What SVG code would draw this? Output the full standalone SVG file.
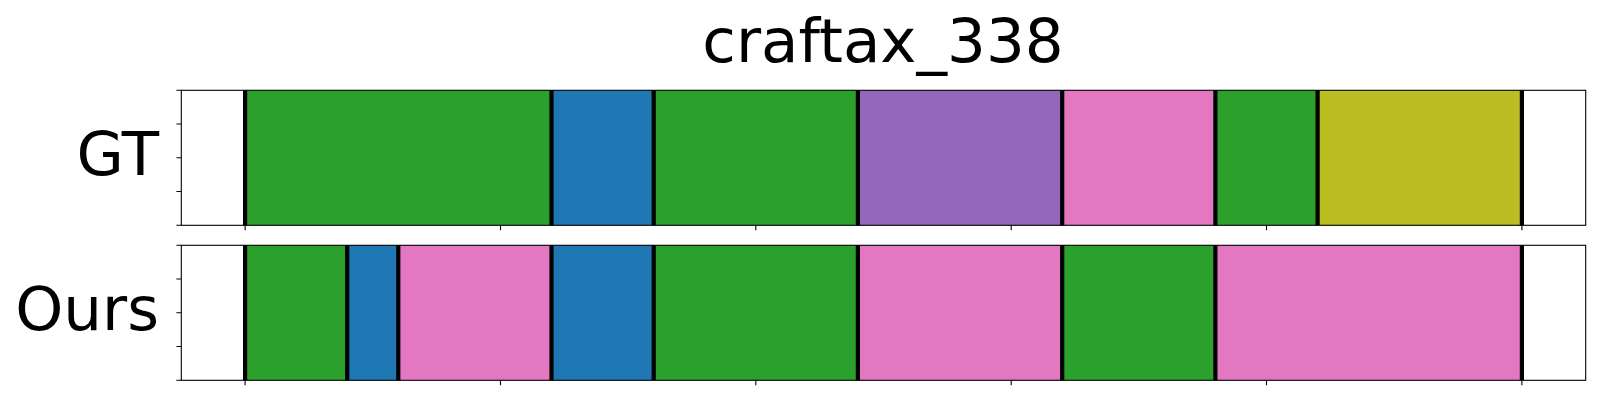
<svg xmlns="http://www.w3.org/2000/svg" width="1600" height="400" viewBox="0 0 1600 400">
<style>
.t{font-family:"DejaVu Sans","Liberation Sans",sans-serif;fill:#000;font-size:61.1px}
.g{fill:#2ca02c}.b{fill:#1f77b4}.p{fill:#9467bd}.k{fill:#e377c2}.o{fill:#bcbd22}
.sep{stroke:#000;stroke-width:4.2;fill:none}
.spine{fill:none;stroke:#000;stroke-width:1.1}
.tick{stroke:#000;stroke-width:1.1;fill:none}
</style>
<rect width="1600" height="400" fill="#fff"/>
<text class="t" x="883" y="62" text-anchor="middle">craftax_338</text>
<g id="gt">
<text class="t" x="159" y="175" text-anchor="end">GT</text>
<rect class="g" x="245.1" y="90.3" width="306.4" height="135"/>
<rect class="b" x="551.5" y="90.3" width="102.2" height="135"/>
<rect class="g" x="653.7" y="90.3" width="204.2" height="135"/>
<rect class="p" x="857.9" y="90.3" width="204.3" height="135"/>
<rect class="k" x="1062.2" y="90.3" width="153.2" height="135"/>
<rect class="g" x="1215.4" y="90.3" width="102.2" height="135"/>
<rect class="o" x="1317.6" y="90.3" width="204.3" height="135"/>
<path class="sep" d="M245.1 90.3V225.3M551.5 90.3V225.3M653.7 90.3V225.3M857.9 90.3V225.3M1062.2 90.3V225.3M1215.4 90.3V225.3M1317.6 90.3V225.3M1521.9 90.3V225.3"/>
<rect class="spine" x="181.3" y="90.3" width="1404.4" height="135"/>
<path class="tick" d="M176.4 90.3H181.3M176.4 124.05H181.3M176.4 157.8H181.3M176.4 191.55H181.3M176.4 225.3H181.3M245.1 225.3V230.2M500.5 225.3V230.2M755.8 225.3V230.2M1011.2 225.3V230.2M1266.5 225.3V230.2M1521.9 225.3V230.2"/>
</g>
<g id="ours">
<text class="t" x="159" y="330" text-anchor="end">Ours</text>
<rect class="g" x="245.1" y="245.3" width="102.1" height="135"/>
<rect class="b" x="347.2" y="245.3" width="51.1" height="135"/>
<rect class="k" x="398.3" y="245.3" width="153.2" height="135"/>
<rect class="b" x="551.5" y="245.3" width="102.2" height="135"/>
<rect class="g" x="653.7" y="245.3" width="204.2" height="135"/>
<rect class="k" x="857.9" y="245.3" width="204.3" height="135"/>
<rect class="g" x="1062.2" y="245.3" width="153.2" height="135"/>
<rect class="k" x="1215.4" y="245.3" width="306.5" height="135"/>
<path class="sep" d="M245.1 245.3V380.3M347.2 245.3V380.3M398.3 245.3V380.3M551.5 245.3V380.3M653.7 245.3V380.3M857.9 245.3V380.3M1062.2 245.3V380.3M1215.4 245.3V380.3M1521.9 245.3V380.3"/>
<rect class="spine" x="181.3" y="245.3" width="1404.4" height="135"/>
<path class="tick" d="M176.4 245.3H181.3M176.4 279.05H181.3M176.4 312.8H181.3M176.4 346.55H181.3M176.4 380.3H181.3M245.1 380.3V385.2M500.5 380.3V385.2M755.8 380.3V385.2M1011.2 380.3V385.2M1266.5 380.3V385.2M1521.9 380.3V385.2"/>
</g>
</svg>
